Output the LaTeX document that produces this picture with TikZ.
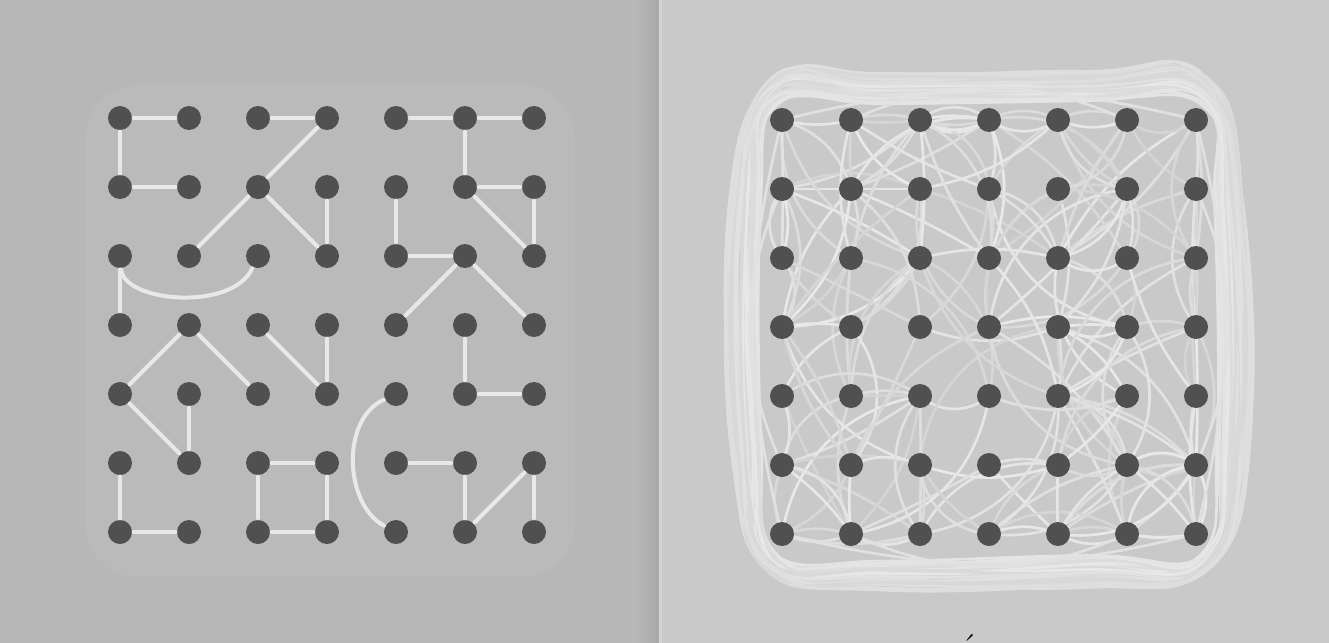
\documentclass[tikz,border=0pt]{standalone}
\usepackage[table]{xcolor}
\usetikzlibrary{positioning}

\definecolor{leftbg}{RGB}{183,183,183}
\definecolor{leftgrid}{RGB}{186,186,186}
\definecolor{rightbg}{RGB}{201,201,201}
\definecolor{seam}{RGB}{168,168,168}
\definecolor{seamlight}{RGB}{212,212,212}
\definecolor{dotgray}{RGB}{80,80,80}
\definecolor{linkwhite}{RGB}{232,232,232}

\pgfdeclarelayer{back}
\pgfdeclarelayer{web}
\pgfsetlayers{back,web,main}

\begin{document}
\begin{tikzpicture}[x=0.75pt,y=0.75pt,yscale=-1,xscale=1,
  dot/.style={circle,fill=dotgray,minimum size=18pt,inner sep=0pt},
  link/.style={draw=linkwhite,line width=3pt,line cap=round,shorten <=1pt,shorten >=1pt},
  tangle/.style={draw=white!#1!rightbg,line width=2pt},
  loopline/.style={draw=white!#1!rightbg,line width=2pt}]

\useasboundingbox (0,0) rectangle (1329,643);

% Panels
\begin{pgfonlayer}{back}
\fill [leftbg] (0,0) rectangle (662,643);
\fill [leftgrid, rounded corners=40] (85,85) rectangle (575,577);
\shade [left color=leftbg, right color=seam] (636,0) rectangle (659,643);
\fill [seamlight] (659,0) rectangle (662,643);
\fill [rightbg] (662,0) rectangle (1329,643);
\end{pgfonlayer}

% Dots
\foreach \c in {1,...,7}
  \foreach \r in {1,...,7} {
    \node [dot] (L-\c-\r) at ({120+69*(\c-1)},{118+69*(\r-1)}) {};
    \node [dot] (R-\c-\r) at ({782+69*(\c-1)},{120+69*(\r-1)}) {};
  }

% Left panel links
\foreach \a/\b in {1-1/2-1, 3-1/4-1, 5-1/6-1, 6-1/7-1, 1-1/1-2, 1-2/2-2,
    4-1/3-2, 3-2/2-3, 3-2/4-3, 4-2/4-3, 6-1/6-2, 5-2/5-3, 6-2/7-2, 6-2/7-3,
    7-2/7-3, 5-3/6-3, 1-3/1-4, 6-3/5-4, 6-3/7-4, 2-4/1-5, 2-4/3-5, 3-4/4-5,
    4-4/4-5, 6-4/6-5, 1-5/2-6, 2-5/2-6, 6-5/7-5, 3-6/4-6, 5-6/6-6, 1-6/1-7,
    3-6/3-7, 4-6/4-7, 6-6/6-7, 7-6/7-7, 7-6/6-7, 1-7/2-7, 3-7/4-7}
  \draw [link] (L-\a) -- (L-\b);
\draw [link] (L-1-3) .. controls (124,302) and (232,312) .. (L-3-3);
\draw [link] (L-5-5) .. controls (340,420) and (345,505) .. (L-5-7);

% Right panel web
\begin{pgfonlayer}{web}
\pgfmathsetseed{1329}
\foreach \k in {1,...,240} {
  \pgfmathtruncatemacro\ca{random(1,7)}
  \pgfmathtruncatemacro\ra{random(1,7)}
  \pgfmathtruncatemacro\cb{max(1,min(7,\ca+random(-2,2)))}
  \pgfmathtruncatemacro\rb{max(1,min(7,\ra+random(-2,2)))}
  \pgfmathtruncatemacro\bd{random(-40,40)}
  \pgfmathtruncatemacro\sh{random(20,60)}
  \pgfmathtruncatemacro\same{and(\ca==\cb,\ra==\rb)}
  \ifnum\same=0
    \draw [tangle=\sh] (R-\ca-\ra.center) to[bend left=\bd] (R-\cb-\rb.center);
  \fi
}
\foreach \c in {1,...,7}
  \foreach \r [evaluate=\r as \rn using int(\r+1)] in {1,...,6} {
    \draw [tangle=45] (R-\c-\r.center) -- (R-\c-\rn.center);
    \draw [tangle=45] (R-\r-\c.center) -- (R-\rn-\c.center);
  }
% outer loops
\foreach \o/\sh in {0/50,4/35,8/55,12/30,16/45,20/28,24/38}
  \draw [loopline=\sh] plot[smooth cycle, tension=0.7] coordinates {
    ({775+6*rand},{102-\o+5*rand}) ({885+8*rand},{98-0.8*\o+6*rand}) ({1090+8*rand},{96-0.8*\o+6*rand})
    ({1205+6*rand},{102-\o+5*rand}) ({1218+\o+5*rand},{210+10*rand})
    ({1222+\o+5*rand},{440+10*rand}) ({1205+6*rand},{555+0.5*\o+5*rand})
    ({1090+8*rand},{560+\o+5*rand}) ({885+8*rand},{562+\o+5*rand})
    ({772+6*rand},{556+0.5*\o+5*rand}) ({758-\o+5*rand},{440+10*rand})
    ({758-\o+5*rand},{210+10*rand})};
\foreach \s/\e/\bd in {1-1/7-1/-14, 2-1/6-1/-24, 1-7/7-7/14, 2-7/6-7/24,
    1-1/1-7/14, 1-2/1-6/24, 7-1/7-7/-14, 7-2/7-6/-24}
  \draw [loopline=45] (R-\s.center) to[bend left=\bd] (R-\e.center);
\end{pgfonlayer}

% Text Node
\node (accent) at (969,660) [anchor=base, font=\fontsize{28}{28}\selectfont] {´};

\end{tikzpicture}
\end{document}
